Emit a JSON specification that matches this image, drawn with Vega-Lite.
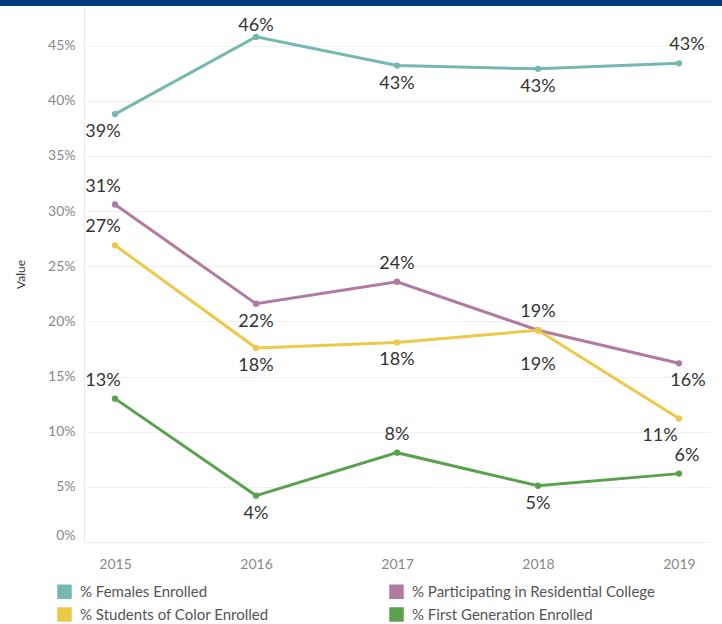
{
  "$schema": "https://vega.github.io/schema/vega-lite/v6.json",
  "padding": 0,
  "spacing": 0,
  "background": "white",
  "config": {
    "font": "Lato",
    "concat": {"spacing": 0}
  },
  "datasets": {
    "rates": [
      {"year": 2015, "series": "% Females Enrolled", "value": 0.388},
      {"year": 2016, "series": "% Females Enrolled", "value": 0.458},
      {"year": 2017, "series": "% Females Enrolled", "value": 0.432},
      {"year": 2018, "series": "% Females Enrolled", "value": 0.429},
      {"year": 2019, "series": "% Females Enrolled", "value": 0.434},
      {"year": 2015, "series": "% Participating in Residential College", "value": 0.306},
      {"year": 2016, "series": "% Participating in Residential College", "value": 0.216},
      {"year": 2017, "series": "% Participating in Residential College", "value": 0.236},
      {"year": 2018, "series": "% Participating in Residential College", "value": 0.192},
      {"year": 2019, "series": "% Participating in Residential College", "value": 0.162},
      {"year": 2015, "series": "% Students of Color Enrolled", "value": 0.269},
      {"year": 2016, "series": "% Students of Color Enrolled", "value": 0.176},
      {"year": 2017, "series": "% Students of Color Enrolled", "value": 0.181},
      {"year": 2018, "series": "% Students of Color Enrolled", "value": 0.192},
      {"year": 2019, "series": "% Students of Color Enrolled", "value": 0.112},
      {"year": 2015, "series": "% First Generation Enrolled", "value": 0.130},
      {"year": 2016, "series": "% First Generation Enrolled", "value": 0.042},
      {"year": 2017, "series": "% First Generation Enrolled", "value": 0.081},
      {"year": 2018, "series": "% First Generation Enrolled", "value": 0.051},
      {"year": 2019, "series": "% First Generation Enrolled", "value": 0.062}
    ]
  },
  "vconcat": [
    {
      "width": 722,
      "height": 6,
      "view": {"stroke": null},
      "data": {"values": [{}]},
      "mark": {"type": "rect", "color": "#043b7c", "opacity": 1},
      "encoding": {}
    },
    {
      "width": 710,
      "height": 536,
      "view": {"stroke": null},
      "data": {"name": "rates"},
      "encoding": {
        "x": {
          "field": "year",
          "type": "ordinal",
          "scale": {"type": "point", "padding": 0.22, "range": [84, 710]},
          "axis": {
            "title": null,
            "labelAngle": 0,
            "labelFontSize": 14,
            "labelColor": "#888888",
            "labelPadding": 15,
            "ticks": false,
            "grid": false,
            "domainColor": "#e4e4e4",
            "domainDash": [1, 2],
            "domainWidth": 1
          }
        },
        "y": {
          "field": "value",
          "type": "quantitative",
          "scale": {"domain": [0, 0.486], "nice": false, "zero": true},
          "axis": {
            "title": "Value",
            "offset": -84,
            "titleFontSize": 12,
            "titleFontWeight": "normal",
            "titleColor": "#333333",
            "titlePadding": 20,
            "values": [0, 0.05, 0.1, 0.15, 0.2, 0.25, 0.3, 0.35, 0.4, 0.45],
            "format": ".0%",
            "labelFontSize": 14,
            "labelColor": "#888888",
            "labelPadding": 9,
            "labelFlush": true,
            "ticks": false,
            "gridColor": "#f0f0f0",
            "gridWidth": 1,
            "domainColor": "#e8e8e8",
            "domainWidth": 1
          }
        }
      },
      "layer": [
        {
          "mark": {"type": "line", "strokeWidth": 3},
          "encoding": {
            "color": {
              "field": "series",
              "type": "nominal",
              "scale": {
                "domain": ["% Females Enrolled", "% Participating in Residential College", "% Students of Color Enrolled", "% First Generation Enrolled"],
                "range": ["#76b7b2", "#b07aa1", "#edc948", "#59a14f"]
              },
              "legend": {
                "title": null,
                "orient": "none",
                "legendX": 57,
                "legendY": 584,
                "direction": "horizontal",
                "columns": 2,
                "columnPadding": 120,
                "rowPadding": 7,
                "symbolType": "square",
                "symbolSize": 210,
                "symbolStrokeWidth": 0,
                "symbolOpacity": 1,
                "labelFontSize": 15,
                "labelColor": "#555555",
                "labelOffset": 8,
                "labelLimit": 400
              }
            }
          }
        },
        {
          "mark": {"type": "point", "filled": true, "size": 40, "opacity": 1},
          "encoding": {
            "color": {"field": "series", "type": "nominal", "legend": null}
          }
        },
        {
          "transform": [{"filter": "indexof(['2015|% Females Enrolled'], datum.year + '|' + datum.series) >= 0"}],
          "mark": {"type": "text", "dx": -12, "dy": 18, "fontSize": 18, "color": "#333333", "baseline": "middle"},
          "encoding": {"text": {"field": "value", "format": ".0%"}}
        },
        {
          "transform": [{"filter": "indexof(['2015|% Participating in Residential College', '2015|% Students of Color Enrolled', '2015|% First Generation Enrolled'], datum.year + '|' + datum.series) >= 0"}],
          "mark": {"type": "text", "dx": -12, "dy": -18, "fontSize": 18, "color": "#333333", "baseline": "middle"},
          "encoding": {"text": {"field": "value", "format": ".0%"}}
        },
        {
          "transform": [{"filter": "indexof(['2016|% Females Enrolled'], datum.year + '|' + datum.series) >= 0"}],
          "mark": {"type": "text", "dx": 0, "dy": -11, "fontSize": 18, "color": "#333333", "baseline": "middle"},
          "encoding": {"text": {"field": "value", "format": ".0%"}}
        },
        {
          "transform": [{"filter": "indexof(['2017|% Females Enrolled', '2018|% Females Enrolled', '2016|% Participating in Residential College', '2016|% Students of Color Enrolled', '2017|% Students of Color Enrolled', '2016|% First Generation Enrolled', '2018|% First Generation Enrolled'], datum.year + '|' + datum.series) >= 0"}],
          "mark": {"type": "text", "dx": 0, "dy": 18, "fontSize": 18, "color": "#333333", "baseline": "middle"},
          "encoding": {"text": {"field": "value", "format": ".0%"}}
        },
        {
          "transform": [{"filter": "indexof(['2017|% Participating in Residential College', '2018|% Participating in Residential College', '2017|% First Generation Enrolled'], datum.year + '|' + datum.series) >= 0"}],
          "mark": {"type": "text", "dx": 0, "dy": -18, "fontSize": 18, "color": "#333333", "baseline": "middle"},
          "encoding": {"text": {"field": "value", "format": ".0%"}}
        },
        {
          "transform": [{"filter": "indexof(['2018|% Students of Color Enrolled'], datum.year + '|' + datum.series) >= 0"}],
          "mark": {"type": "text", "dx": 0, "dy": 35, "fontSize": 18, "color": "#333333", "baseline": "middle"},
          "encoding": {"text": {"field": "value", "format": ".0%"}}
        },
        {
          "transform": [{"filter": "indexof(['2019|% Females Enrolled', '2019|% First Generation Enrolled'], datum.year + '|' + datum.series) >= 0"}],
          "mark": {"type": "text", "dx": 8, "dy": -18, "fontSize": 18, "color": "#333333", "baseline": "middle"},
          "encoding": {"text": {"field": "value", "format": ".0%"}}
        },
        {
          "transform": [{"filter": "indexof(['2019|% Participating in Residential College'], datum.year + '|' + datum.series) >= 0"}],
          "mark": {"type": "text", "dx": 9, "dy": 18, "fontSize": 18, "color": "#333333", "baseline": "middle"},
          "encoding": {"text": {"field": "value", "format": ".0%"}}
        },
        {
          "transform": [{"filter": "indexof(['2019|% Students of Color Enrolled'], datum.year + '|' + datum.series) >= 0"}],
          "mark": {"type": "text", "dx": -19, "dy": 18, "fontSize": 18, "color": "#333333", "baseline": "middle"},
          "encoding": {"text": {"field": "value", "format": ".0%"}}
        }
      ]
    }
  ]
}
